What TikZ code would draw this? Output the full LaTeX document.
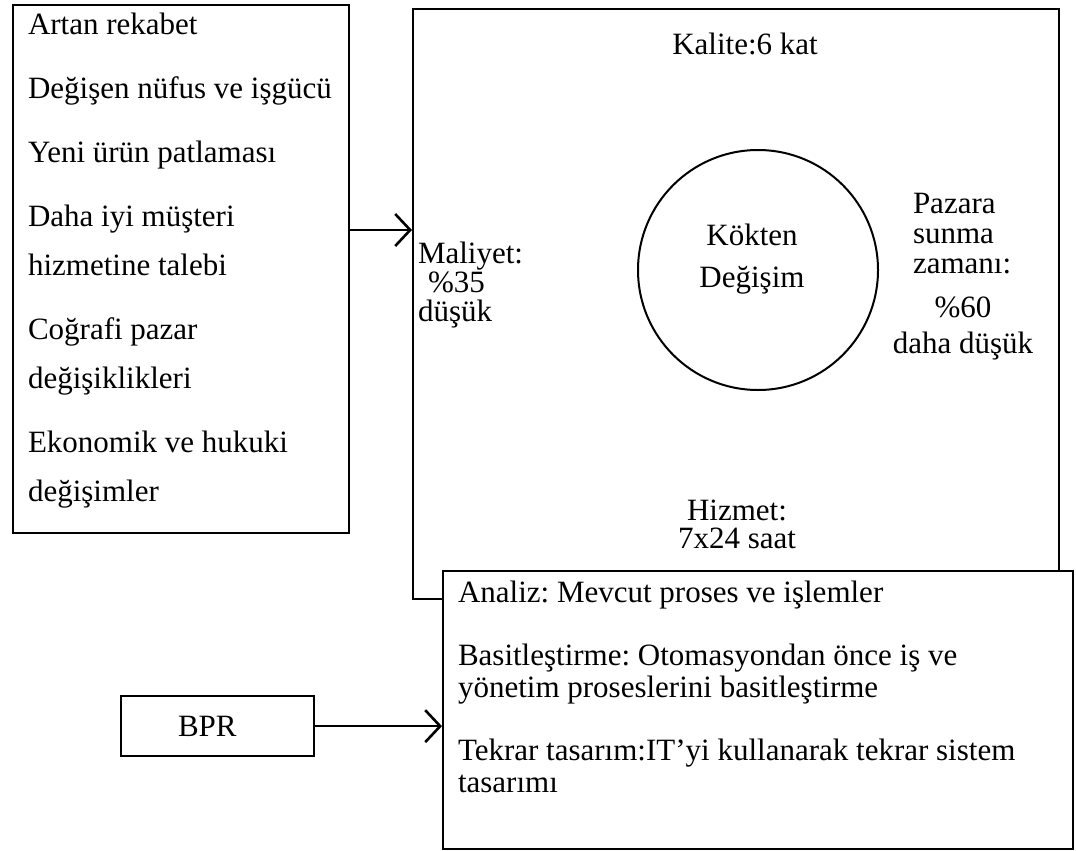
\documentclass[tikz,border=0pt]{standalone}
\usepackage{fontspec}
\setmainfont{Liberation Serif}
\usetikzlibrary{arrows.meta}
\begin{document}
\frenchspacing
\begin{tikzpicture}[x=1pt,y=-1pt,
  frame/.style={draw=black, line width=2.3pt},
  tx/.style={inner sep=0pt, outer sep=0pt, font=\fontsize{31}{34}\selectfont},
  conn/.style={draw=black, line width=2pt,
    -{Straight Barb[length=15pt,width=32pt,line width=2.6pt]}},
]
\useasboundingbox (0,0) rectangle (1076,851);

% drivers of change (multi-line nodes are placed by the baseline of their last line)
\node[frame, anchor=north west, minimum width=336, minimum height=528] (forces) at (12,4) {};
\node[tx, anchor=base west, align=left, font=\fontsize{31}{49}\selectfont] (flist) at (28,501)
  {Artan rekabet\\[15pt]
   Değişen nüfus ve işgücü\\[15pt]
   Yeni ürün patlaması\\[15pt]
   Daha iyi müşteri\\
   hizmetine talebi\\[15pt]
   Coğrafi pazar\\
   değişiklikleri\\[15pt]
   Ekonomik ve hukuki\\
   değişimler};

% radical change panel
\node[frame, anchor=north west, minimum width=646, minimum height=590] (change) at (412,8) {};
\node[tx, anchor=base] (quality) at (745,55) {Kalite:6 kat};
\node[draw=black, line width=2pt, circle, minimum size=240, inner sep=0pt] (core) at (758,270) {};
\node[tx, anchor=base, align=center, font=\fontsize{31}{42}\selectfont] (corelabel) at (752,287) {Kökten\\Değişim};
\node[tx, anchor=base west, align=left, font=\fontsize{31}{29}\selectfont] (cost) at (418,321)
  {Maliyet:\\\hspace{10pt}\%35\\düşük};
\node[tx, anchor=base west, align=left, font=\fontsize{31}{30}\selectfont] (market) at (913,273)
  {Pazara\\sunma\\zamanı:};
\node[tx, anchor=base, align=center, font=\fontsize{31}{36}\selectfont] (marketval) at (963,353)
  {\%60\\daha düşük};
\node[tx, anchor=base, align=center, font=\fontsize{31}{28}\selectfont] (service) at (737,548)
  {Hizmet:\\7x24 saat};

% BPR steps
\node[frame, fill=white, anchor=north west, minimum width=630, minimum height=278] (steps) at (442,570) {};
\node[tx, anchor=base west, align=left, font=\fontsize{31}{32}\selectfont] (stepstext) at (458,792)
  {Analiz: Mevcut proses ve işlemler\\[31pt]
   Basitleştirme: Otomasyondan önce iş ve\\
   yönetim proseslerini basitleştirme\\[31pt]
   Tekrar tasarım:IT'yi kullanarak tekrar sistem\\
   tasarımı};

\node[frame, anchor=north west, minimum width=193, minimum height=60] (bpr) at (120,695) {};
\node[tx, anchor=base west] (bprlabel) at (178,736) {BPR};

% connectors
\draw[conn] ([yshift=-226pt]forces.north east) -- ([yshift=-222pt]change.north west);
\draw[conn] (bpr.east) -- (bpr.east -| steps.west);
\end{tikzpicture}
\end{document}
